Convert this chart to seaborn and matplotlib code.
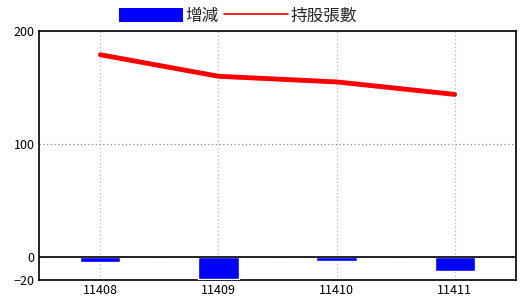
import matplotlib
matplotlib.use("Agg")
import matplotlib.pyplot as plt
import seaborn as sns
import pandas as pd
from matplotlib.patches import Patch
from matplotlib.lines import Line2D

categories = ["11408", "11409", "11410", "11411"]
change = [-4, -19, -3, -12]
holdings = [179, 160, 155, 144]
yticks = [-20, 0, 100, 200]

sns.set_theme(style="white")
plt.rcParams['font.family'] = ['Noto Sans CJK TC', 'DejaVu Sans']

df = pd.DataFrame({"period": categories, "change": change, "holdings": holdings})

fig = plt.figure(figsize=(5.2, 3.0), dpi=100)
ax = fig.add_axes([39/520, 1-280/300, (516-39)/520, (280-31)/300])

sns.barplot(data=df, x="period", y="change", color="#0000ff", saturation=1,
            width=0.34, ax=ax, zorder=3)
sns.pointplot(data=df, x="period", y="holdings", color="#ff0000", markers="",
              linewidth=3.5, ax=ax, zorder=4)

ax.set_xlim(-0.52, 3.52)
ax.set_ylim(-20, 200)
ax.set_yticks(yticks)
ax.set_xlabel("")
ax.set_ylabel("")
ax.tick_params(axis="both", length=0, labelsize=9, colors="black", pad=3)
ax.xaxis.grid(True, linestyle=(0, (1, 2)), color="#9dbcd8", linewidth=0.9)
ax.yaxis.grid(True, linestyle=(0, (1, 2)), color="#888888", linewidth=0.9)
ax.set_axisbelow(True)
ax.axhline(0, color="black", linewidth=1.2, zorder=5)
for s in ax.spines.values():
    s.set_color("black")
    s.set_linewidth(1.2)

handles = [Patch(facecolor="#0000ff", edgecolor="none"),
           Line2D([0], [0], color="#ff0000", linewidth=1.2)]
fig.legend(handles, ["增減", "持股張數"], loc="center",
           bbox_to_anchor=(238/520, 1-16/300), bbox_transform=fig.transFigure,
           ncol=2, frameon=False, fontsize=12, handlelength=3.8, handleheight=0.95,
           handletextpad=0.15, columnspacing=0.35, borderaxespad=0, borderpad=0)

fig.savefig("out.png", dpi=100)
